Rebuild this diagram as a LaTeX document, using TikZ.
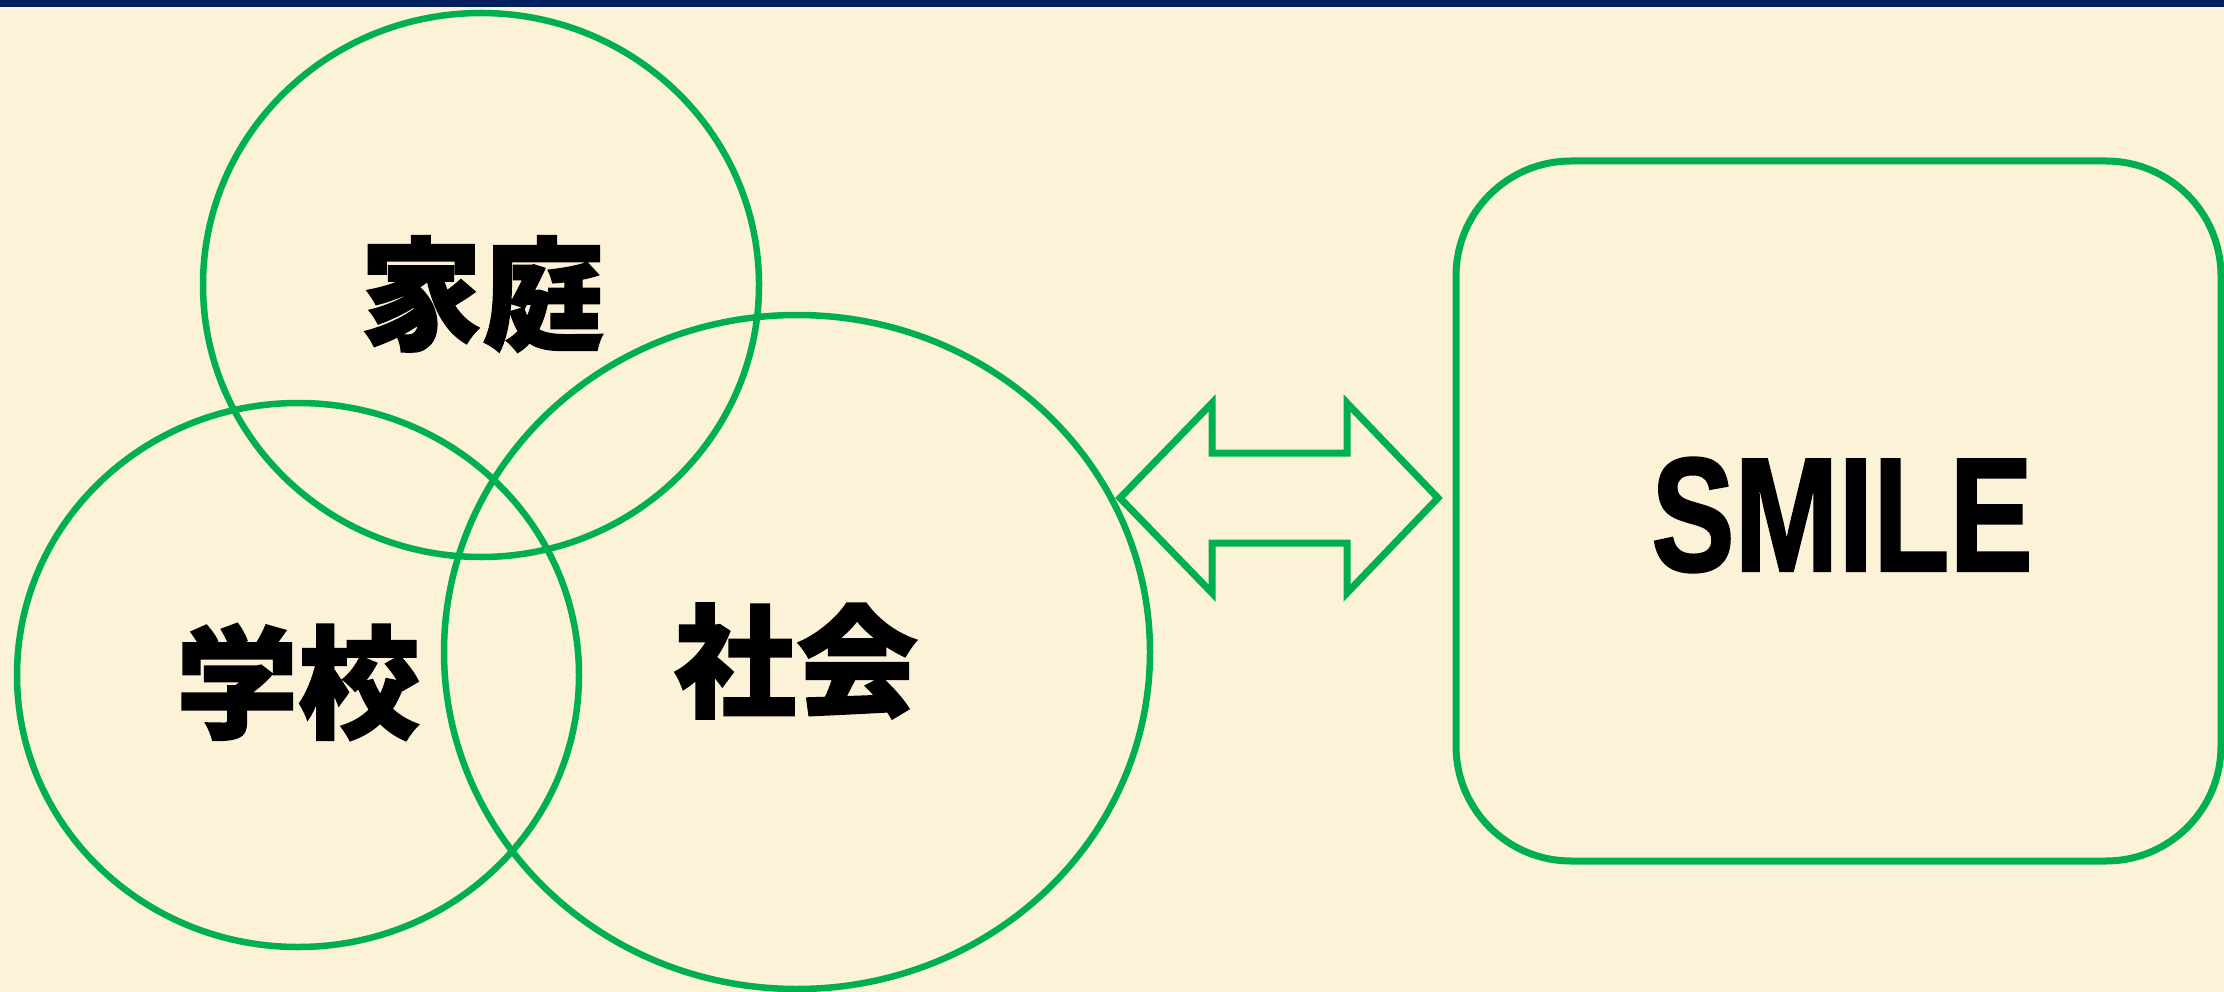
\documentclass[tikz,border=0pt]{standalone}
\usepackage{fontspec}
\setmainfont{Liberation Sans}
\newfontfamily\cjk[FakeBold=1.5]{Noto Sans CJK JP}
\newfontfamily\smilefont[FakeBold=1.6]{Liberation Sans}
\usetikzlibrary{shapes.geometric}
\definecolor{bg}{HTML}{FCF2D8}
\definecolor{ringgreen}{HTML}{00B050}
\definecolor{band}{HTML}{002060}
\begin{document}
\begin{tikzpicture}[x=1pt,y=-1pt,
  ring/.style={draw=ringgreen, line width=6.5pt, ellipse, inner sep=0pt},
  cjklabel/.style={font=\cjk\bfseries\fontsize{122}{130}\selectfont, text=black, inner sep=0pt},
  smilebox/.style={draw=ringgreen, line width=7pt, rounded corners=115pt, inner sep=0pt},
  blockarrow/.style={draw=ringgreen, line width=7pt, miter limit=10}]
\useasboundingbox (0,0) rectangle (2224,992);
\fill[bg] (0,0) rectangle (2224,992);
\fill[band] (0,0) rectangle (2224,7);
% circles
\node[ring, minimum width=556pt, minimum height=544pt] (home) at (481,285) {};
\node[ring, minimum width=562pt, minimum height=544pt] (school) at (298,675) {};
\node[ring, minimum width=706pt, minimum height=674pt] (society) at (797,652) {};
% labels
\node[cjklabel] (homet) at (482,294) {家庭};
\node[cjklabel] (schoolt) at (298,682) {学校};
\node[cjklabel] (societyt) at (796,661) {社会};
% box
\node[smilebox, minimum width=765pt, minimum height=700pt] (smile) at (1838.5,511) {};
\node[font=\smilefont\bfseries\fontsize{162}{170}\selectfont, inner sep=0pt] (smilet) at (1842,515) {\scalebox{0.77}[1]{SMILE}};
% double block arrow
\draw[blockarrow] (1120,498) -- (1212,403) -- (1212,453) -- (1347,453) -- (1347,403)
  -- (1438,498) -- (1347,593) -- (1347,543) -- (1212,543) -- (1212,593) -- cycle;
\end{tikzpicture}
\end{document}
